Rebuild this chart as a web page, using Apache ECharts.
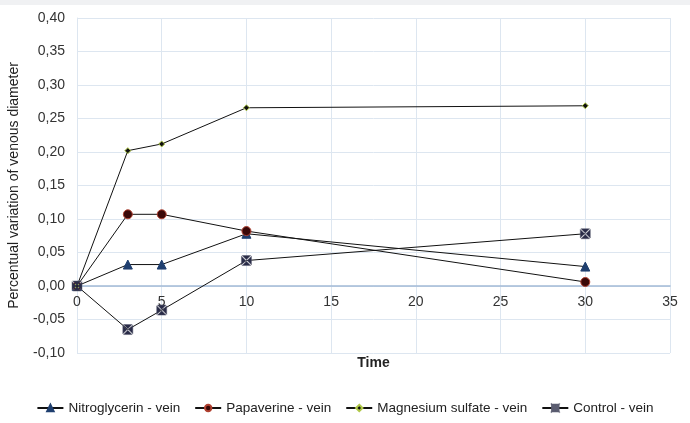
<!DOCTYPE html>
<html><head><meta charset="utf-8">
<script src="https://cdn.jsdelivr.net/npm/echarts@6/dist/echarts.min.js"></script>
<style>html,body{margin:0;padding:0;background:#fff}#c{width:690px;height:423px;border-top:5px solid #f0f1f3;box-sizing:border-box}</style>
</head><body><div id="c"></div>
<script>
const times = [0, 3, 5, 10, 30];
const nitroglycerin = [0, 0.032, 0.032, 0.078, 0.029];
const papaverine = [0, 0.107, 0.107, 0.082, 0.006];
const magnesium = [0, 0.202, 0.212, 0.266, 0.269];
const control = [0, -0.065, -0.036, 0.038, 0.078];
const seriesNames = ['Nitroglycerin - vein', 'Papaverine - vein', 'Magnesium sulfate - vein', 'Control - vein'];

const pairs = arr => times.map((t, i) => [t, arr[i]]);
const chart = echarts.init(document.getElementById('c'));
const font = 'Liberation Sans, Arial, sans-serif';
const crossedSquare = 'path://M0.7,0L9.3,0L5,4.3Z M10,0.7L10,9.3L5.7,5Z M9.3,10L0.7,10L5,5.7Z M0,9.3L0,0.7L4.3,5Z';
const mk = (name, data, symbol, size, fill, border, bw) => ({
  name, type: 'line', data: pairs(data), symbol, symbolSize: size,
  lineStyle: { color: '#111', width: 1 },
  itemStyle: { color: fill, borderColor: border, borderWidth: bw },
  emphasis: { disabled: true }
});
chart.setOption({
  animation: false,
  textStyle: { fontFamily: font },
  grid: { left: 77, right: 20, top: 13, bottom: 70, outerBoundsMode: 'none', containLabel: false },
  xAxis: {
    type: 'value', min: 0, max: 35, interval: 5,
    offset: -67,
    name: 'Time', nameLocation: 'middle', nameGap: 70, nameMoveOverlap: false,
    nameTextStyle: { fontWeight: 'bold', fontSize: 14, color: '#222', verticalAlign: 'top' },
    axisLine: { onZero: false, lineStyle: { color: '#a3bbd6', width: 1.5 } },
    axisTick: { show: false },
    axisLabel: { color: '#333', fontSize: 14, margin: 9 },
    splitLine: { show: true, lineStyle: { color: '#dde6f0' } }
  },
  yAxis: {
    type: 'value', min: -0.10, max: 0.40, interval: 0.05,
    name: 'Percentual variation of venous diameter', nameLocation: 'middle', nameGap: 56,
    nameTextStyle: { fontSize: 14, color: '#222' },
    axisLine: { show: true, onZero: false, lineStyle: { color: '#dde6f0' } },
    axisTick: { show: false },
    axisLabel: { color: '#333', fontSize: 14, margin: 12, formatter: v => v.toFixed(2).replace('.', ',') },
    splitLine: { show: true, lineStyle: { color: '#dde6f0' } }
  },
  legend: {
    bottom: 3, left: 'center', itemGap: 14, itemWidth: 26, itemHeight: 8,
    textStyle: { fontSize: 13.5, color: '#222' },
    data: seriesNames
  },
  series: [
    mk(seriesNames[0], nitroglycerin, 'triangle', 9, '#1f3f6f', '#1f3f6f', 1),
    mk(seriesNames[1], papaverine, 'circle', 9, '#3a0808', '#b04030', 1),
    mk(seriesNames[2], magnesium, 'diamond', 6, '#111', '#b0c848', 1),
    mk(seriesNames[3], control, crossedSquare, 10, '#2a2c48', '#5a5c70', 0.5)
  ]
});
</script></body></html>
